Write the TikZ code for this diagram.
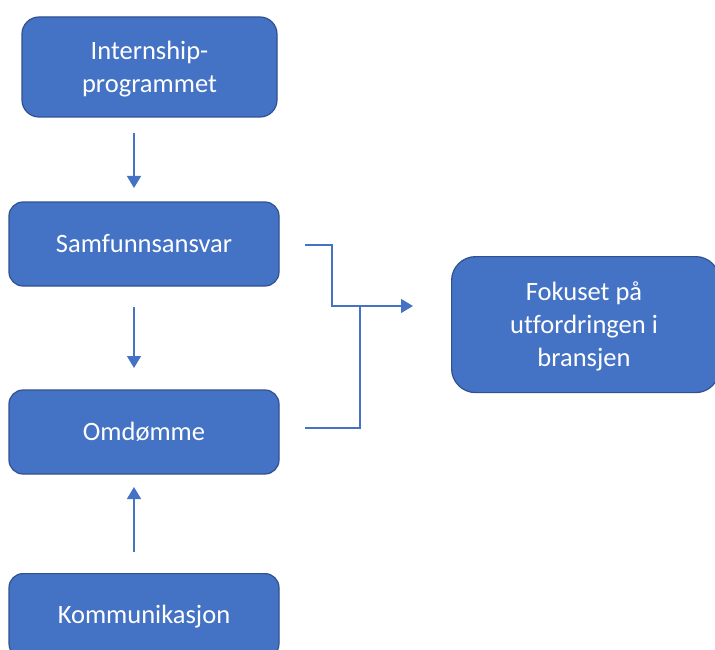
\documentclass[tikz,border=0pt]{standalone}
\usepackage{fontspec}
\setmainfont[Ligatures={NoCommon}]{Carlito}
\usetikzlibrary{arrows.meta}
\definecolor{boxfill}{HTML}{4472C4}
\definecolor{boxline}{HTML}{2F528F}
\definecolor{conn}{HTML}{4472C4}
\begin{document}
\begin{tikzpicture}[x=1pt,y=-1pt,
  blk/.style={draw=boxline,line width=1.2pt,fill=boxfill,text=white,align=center,
    font=\fontsize{26.5}{33}\selectfont,inner sep=0pt},
  lbl/.style={text=white,align=center,font=\fontsize{26.5}{33}\selectfont,inner sep=0pt},
  link/.style={draw=conn,line width=1.3pt},
  tip/.style={-{Triangle[length=12pt,width=14pt]}}]
\useasboundingbox (0,0) rectangle (715,650);
\node[blk,rounded corners=17pt,minimum width=255pt,minimum height=100pt] (a) at (149.5,67) {};
\node[lbl] (at) at (149.5,69) {Internship-\\programmet};
\node[blk,rounded corners=14pt,minimum width=270pt,minimum height=84pt] (b) at (144,244) {Samfunnsansvar};
\node[blk,rounded corners=14pt,minimum width=270pt,minimum height=84pt] (c) at (144,432) {Omdømme};
\node[blk,rounded corners=14pt,minimum width=270pt,minimum height=84pt,anchor=north] (d) at (144,573) {};
\node[lbl] (dt) at (144,617) {Kommunikasjon};
\node[blk,rounded corners=24pt,minimum width=268pt,minimum height=136pt,anchor=north west] (e) at (451,256) {};
\node[lbl] (et) at (584,326) {Fokuset på\\utfordringen i\\bransjen};
\coordinate (a1) at (134,133);
\coordinate (b0) at (134,188);
\coordinate (b1) at (134,307);
\coordinate (c0) at (134,368);
\coordinate (d1) at (134,552);
\coordinate (c1) at (134,487);
\draw[link,tip] (a1) -- (b0);
\draw[link,tip] (b1) -- (c0);
\draw[link,tip] (d1) -- (c1);
\coordinate (s1) at (305,245);
\coordinate (s2) at (305,428);
\coordinate (m) at (360,306);
\coordinate (t) at (413,306);
\draw[link] (s1) -- (332,245) -- (332,306) -- (m);
\draw[link] (s2) -- (360,428) -- (m);
\draw[link,tip] (m) -- (t);
\end{tikzpicture}
\end{document}
